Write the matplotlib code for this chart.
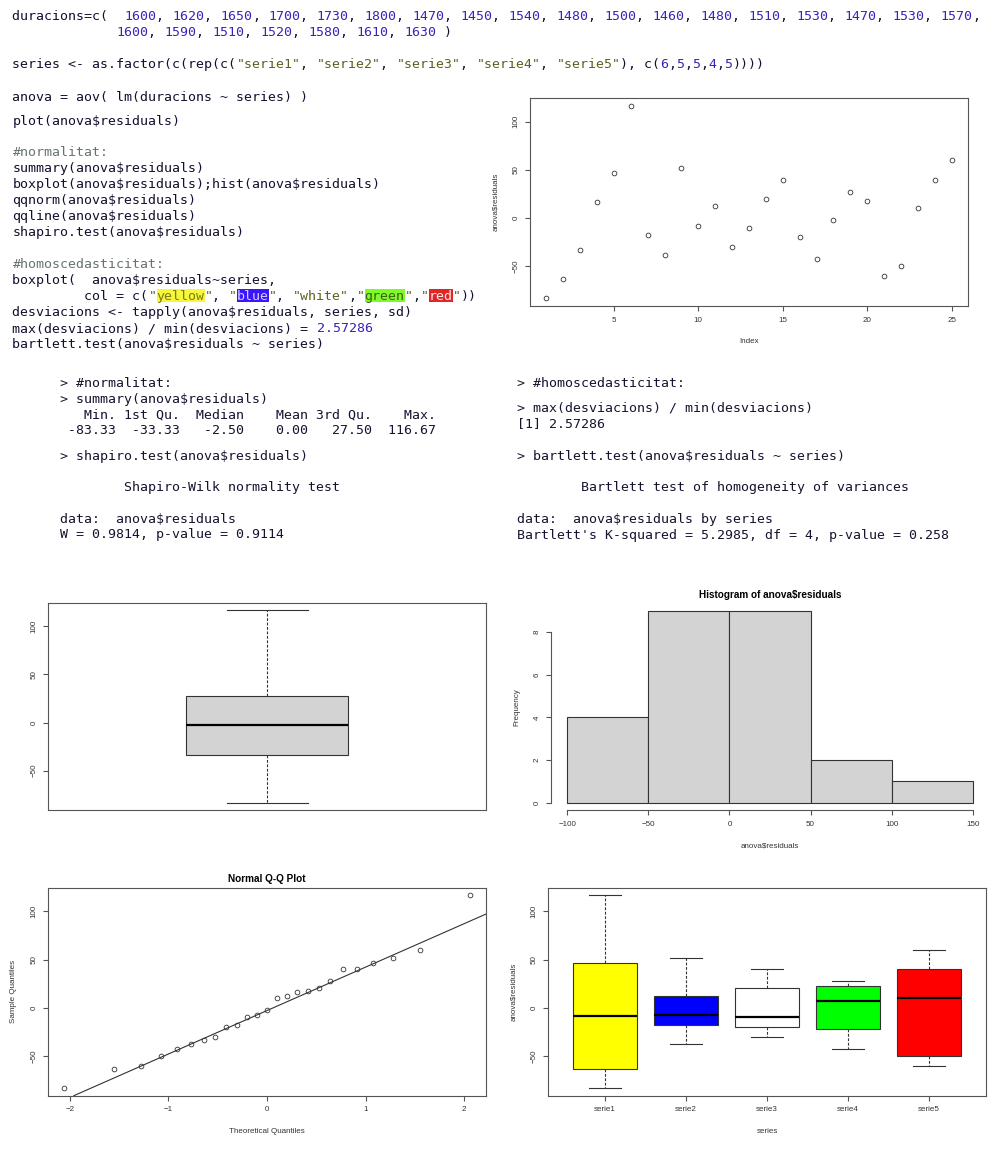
import re
import matplotlib
matplotlib.use("Agg")
import matplotlib.pyplot as plt
from matplotlib.patches import Rectangle

W, H = 994, 1154

# residus de l'anova, un per observacio
index = list(range(1, 26))
residuals = [-83.33, -63.33, -33.33, 16.67, 46.67, 116.67,
             -18, -38, 52, -8, 12,
             -30, -10, 20, 40, -20,
             -42.5, -2.5, 27.5, 17.5,
             -60, -50, 10, 40, 60]

# histograma
hist_edges = [-100, -50, 0, 50, 100, 150]
hist_counts = [4, 9, 9, 2, 1]

# qqnorm / qqline
qq_theoretical = [-2.054, -1.555, -1.282, -1.080, -0.915, -0.772, -0.643, -0.524,
                  -0.412, -0.305, -0.202, -0.100, 0.0, 0.100, 0.202, 0.305,
                  0.412, 0.524, 0.643, 0.772, 0.915, 1.080, 1.282, 1.555, 2.054]
qq_sample = [-83.33, -63.33, -60, -50, -42.5, -38, -33.33, -30, -20, -18, -10, -8,
             -2.5, 10, 12, 16.67, 17.5, 20, 27.5, 40, 40, 46.67, 52, 60, 116.67]
qq_line_x = [-0.674, 0.674]
qq_line_y = [-33.33, 27.5]

# boxplot global: min, q1, mediana, q3, max
all_box = [-83.33, -33.33, -2.5, 27.5, 116.67]

# boxplot per serie
series_names = ["serie1", "serie2", "serie3", "serie4", "serie5"]
s_low = [-83.33, -38, -30, -42.5, -60]
s_q1 = [-63.33, -18, -20, -22.5, -50]
s_med = [-8.33, -8, -10, 7.5, 10]
s_q3 = [46.67, 12, 20, 22.5, 40]
s_high = [116.67, 52, 40, 27.5, 60]

code_lines = [
    "duracions=c(  1600, 1620, 1650, 1700, 1730, 1800, 1470, 1450, 1540, 1480, 1500, 1460, 1480, 1510, 1530, 1470, 1530, 1570,",
    "             1600, 1590, 1510, 1520, 1580, 1610, 1630 )",
    'series <- as.factor(c(rep(c("serie1", "serie2", "serie3", "serie4", "serie5"), c(6,5,5,4,5))))',
    "anova = aov( lm(duracions ~ series) )",
    "plot(anova$residuals)",
    "#normalitat:",
    "summary(anova$residuals)",
    "boxplot(anova$residuals);hist(anova$residuals)",
    "qqnorm(anova$residuals)",
    "qqline(anova$residuals)",
    "shapiro.test(anova$residuals)",
    "#homoscedasticitat:",
    "boxplot(  anova$residuals~series,",
    '         col = c("yellow", "blue", "white","green","red"))',
    "desviacions <- tapply(anova$residuals, series, sd)",
    "max(desviacions) / min(desviacions) = 2.57286",
    "bartlett.test(anova$residuals ~ series)",
]
code_y = [15.7, 31.7, 63.3, 96, 120, 151.7, 167.7, 183.7, 199.7, 215.7, 231.7,
          263.3, 279.3, 295.7, 311.7, 327.7, 343.7]

console_left = [
    "> #normalitat:",
    "> summary(anova$residuals)",
    "   Min. 1st Qu.  Median    Mean 3rd Qu.    Max. ",
    " -83.33  -33.33   -2.50    0.00   27.50  116.67 ",
    "> shapiro.test(anova$residuals)",
    "        Shapiro-Wilk normality test",
    "data:  anova$residuals",
    "W = 0.9814, p-value = 0.9114",
]
console_left_y = [382.7, 398.3, 414, 430, 455, 486.7, 518.3, 534]

console_right = [
    "> #homoscedasticitat:",
    "> max(desviacions) / min(desviacions)",
    "[1] 2.57286",
    "> bartlett.test(anova$residuals ~ series)",
    "        Bartlett test of homogeneity of variances",
    "data:  anova$residuals by series",
    "Bartlett's K-squared = 5.2985, df = 4, p-value = 0.258",
]
console_right_y = [382.7, 406.7, 422.7, 455, 486.7, 518.3, 534.3]

# ---- estil ----
SANS = "Liberation Sans"
MONO = "DejaVu Sans Mono"
CW = 8.0
MONO_FS = CW / 0.602 * 72 / 100
FS = 5.8
GRAY = "#555555"
DARK = "#333333"
C_CODE = "#101030"
C_NUM = "#3a22b8"
C_STR = "#5f5f1f"
C_COM = "#66736f"
highlights = {"yellow": ("#f6f63c", "#7a7a10"), "blue": ("#3c14ff", "#d0d0ff"),
              "green": ("#7dfc2a", "#3f5f10"), "red": ("#e02626", "#ffe6e6")}

fig = plt.figure(figsize=(W / 100, H / 100), dpi=100)


def fx(x):
    return x / W


def fy(y):
    return 1 - y / H


def add_ax(l, t, r, b):
    return fig.add_axes([l / W, 1 - b / H, (r - l) / W, (b - t) / H])


def r_style(ax, l, t, r, b, xlabel=None, ylabel=None, title=None):
    for s in ax.spines.values():
        s.set_color(GRAY)
        s.set_linewidth(0.8)
    ax.tick_params(length=3.6, width=0.8, color=GRAY, labelsize=FS,
                   labelcolor=DARK, pad=4)
    ax.tick_params(axis="y", labelrotation=90)
    for lab in ax.get_yticklabels():
        lab.set_va("center")
        lab.set_family(SANS)
    for lab in ax.get_xticklabels():
        lab.set_family(SANS)
    if xlabel:
        ax.set_xlabel(xlabel, fontsize=FS, color=DARK, family=SANS, parse_math=False)
        ax.xaxis.set_label_coords(0.5, -35.8 / (b - t))
        ax.xaxis.label.set_va("center")
    if ylabel:
        ax.set_ylabel(ylabel, fontsize=FS, color=DARK, family=SANS, parse_math=False)
        ax.yaxis.set_label_coords(-34.5 / (r - l), 0.5)
        ax.yaxis.label.set_va("center")
    if title:
        ttl = ax.set_title(title, fontsize=7.2, fontweight="bold", family=SANS,
                           parse_math=False)
        ttl.set_y(1 + 20 / (b - t))
        ttl.set_va("center")


def draw_line(x0, y, line, base, colored=True):
    colors = [base] * len(line)
    if colored:
        if line.lstrip().startswith("#"):
            colors = [C_COM] * len(line)
        else:
            for m in re.finditer(r'"[^"]*"|\d+(?:\.\d+)?', line):
                c = C_STR if m.group().startswith('"') else C_NUM
                for i in range(m.start(), m.end()):
                    colors[i] = c
        for word, (bg, fg) in highlights.items():
            k = line.find('"' + word + '"')
            if k >= 0:
                k += 1
                fig.add_artist(Rectangle((fx(x0 + k * CW), fy(y + 6.5)),
                                         len(word) * CW / W, 13 / H,
                                         transform=fig.transFigure,
                                         facecolor=bg, edgecolor="none", zorder=0))
                for i in range(k, k + len(word)):
                    colors[i] = fg
    i = 0
    while i < len(line):
        j = i
        while j < len(line) and colors[j] == colors[i]:
            j += 1
        run = line[i:j]
        if run.strip():
            fig.text(fx(x0 + i * CW), fy(y + 4.5), run, family=MONO,
                     fontsize=MONO_FS, color=colors[i], ha="left", va="baseline",
                     parse_math=False)
        i = j


for line, y in zip(code_lines, code_y):
    draw_line(12.5, y, line, C_CODE)
for line, y in zip(console_left, console_left_y):
    draw_line(60.5, y, line, "#141430", colored=False)
for line, y in zip(console_right, console_right_y):
    draw_line(517, y, line, "#141430", colored=False)

YLIM = (-91.33, 124.67)
YT = [-50, 0, 50, 100]
pt_style = dict(ls="none", marker="o", ms=3.4, mfc="none", mec=DARK, mew=0.6)

# plot(anova$residuals)
box = (530, 98, 968, 306)
ax = add_ax(*box)
ax.plot(index, residuals, **pt_style)
ax.set_xlim(0.04, 25.96)
ax.set_ylim(*YLIM)
ax.set_xticks([5, 10, 15, 20, 25])
ax.set_yticks(YT)
r_style(ax, *box, xlabel="Index", ylabel="anova$residuals")

bx_kw = dict(patch_artist=True, showfliers=False,
             boxprops=dict(edgecolor=DARK, linewidth=0.8),
             medianprops=dict(color="black", linewidth=1.6),
             whiskerprops=dict(color=DARK, linewidth=0.8, linestyle=(0, (2.5, 1.5))),
             capprops=dict(color=DARK, linewidth=0.8))

# boxplot(anova$residuals)
box = (48.3, 602.7, 485.7, 810.3)
ax = add_ax(*box)
st = [dict(whislo=all_box[0], q1=all_box[1], med=all_box[2], q3=all_box[3], whishi=all_box[4])]
bp = ax.bxp(st, positions=[1], widths=0.4, capwidths=0.2, **bx_kw)
bp["boxes"][0].set_facecolor("#d3d3d3")
ax.set_xlim(0.46, 1.54)
ax.set_ylim(*YLIM)
ax.set_xticks([])
ax.set_yticks(YT)
r_style(ax, *box)

# hist(anova$residuals)
box = (551, 603, 989, 810.4)
ax = add_ax(*box)
ax.hist(hist_edges[:-1], bins=hist_edges, weights=hist_counts,
        color="#d3d3d3", edgecolor=DARK, linewidth=0.8)
ax.set_xlim(-110, 160)
ax.set_ylim(-0.36, 9.36)
ax.set_xticks(hist_edges)
ax.set_yticks([0, 2, 4, 6, 8])
ax.spines["top"].set_visible(False)
ax.spines["right"].set_visible(False)
ax.spines["left"].set_bounds(0, 8)
ax.spines["bottom"].set_bounds(-100, 150)
r_style(ax, *box, xlabel="anova$residuals", ylabel="Frequency",
        title="Histogram of anova$residuals")

# qqnorm + qqline
box = (48.3, 887.7, 485.7, 1095.7)
ax = add_ax(*box)
ax.plot(qq_theoretical, qq_sample, **pt_style)
ax.axline((qq_line_x[0], qq_line_y[0]), (qq_line_x[1], qq_line_y[1]),
          color=DARK, linewidth=0.8)
ax.set_xlim(-2.218, 2.218)
ax.set_ylim(*YLIM)
ax.set_xticks([-2, -1, 0, 1, 2])
ax.set_yticks(YT)
r_style(ax, *box, xlabel="Theoretical Quantiles", ylabel="Sample Quantiles",
        title="Normal Q-Q Plot")

# boxplot per serie
box = (548.3, 887.7, 985.7, 1095.7)
ax = add_ax(*box)
st = [dict(whislo=a, q1=b, med=c, q3=d, whishi=e)
      for a, b, c, d, e in zip(s_low, s_q1, s_med, s_q3, s_high)]
pos = list(range(1, len(series_names) + 1))
bp = ax.bxp(st, positions=pos, widths=0.8, capwidths=0.4, **bx_kw)
for patch, col in zip(bp["boxes"], ["yellow", "blue", "white", "#00ff00", "red"]):
    patch.set_facecolor(col)
ax.set_xlim(0.3, 5.7)
ax.set_ylim(*YLIM)
ax.set_xticks(pos)
ax.set_xticklabels(series_names)
ax.set_yticks(YT)
r_style(ax, *box, xlabel="series", ylabel="anova$residuals")

fig.savefig("out.png", dpi=100)
